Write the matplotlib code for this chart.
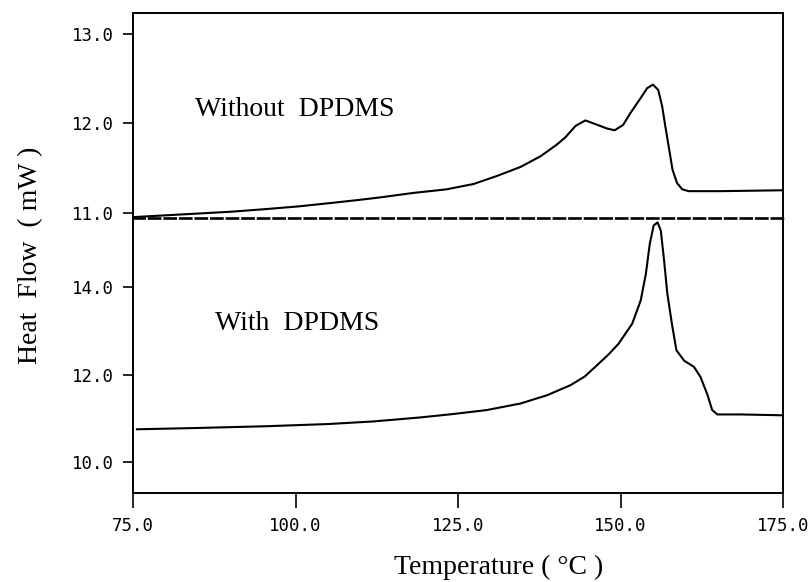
import matplotlib.pyplot as plt

# DSC traces
temp_without = [75.0, 80.0, 85.0, 90.0, 95.5, 100.5, 105.7, 109.5, 113.0, 118.1, 123.2,
                127.4, 131.0, 134.6, 137.7, 140.2, 141.5, 143.1, 144.6, 146.1, 147.9,
                149.1, 150.4, 151.5, 153.1, 154.1, 155.0, 155.8, 156.4, 156.9, 157.5,
                158.0, 158.7, 159.5, 160.5, 165.4, 175.0]
flow_without = [10.95, 10.97, 10.99, 11.01, 11.04, 11.07, 11.11, 11.14, 11.17, 11.22, 11.26,
                11.32, 11.41, 11.51, 11.63, 11.76, 11.84, 11.97, 12.03, 11.99, 11.94,
                11.92, 11.98, 12.11, 12.28, 12.39, 12.43, 12.37, 12.19, 11.96, 11.70,
                11.48, 11.33, 11.26, 11.24, 11.24, 11.25]

temp_with = [75.6, 85.0, 95.5, 105.0, 112.0, 119.1, 124.3, 129.4, 134.6, 138.7, 142.3,
             144.5, 146.4, 148.2, 149.7, 151.8, 153.1, 153.9, 154.5, 155.1, 155.7,
             156.2, 156.7, 157.2, 157.9, 158.6, 159.8, 161.3, 162.3, 163.4, 164.1,
             164.9, 168.5, 175.0]
flow_with = [10.75, 10.78, 10.82, 10.87, 10.93, 11.02, 11.10, 11.19, 11.34, 11.53, 11.76,
             11.96, 12.22, 12.47, 12.71, 13.17, 13.70, 14.31, 15.00, 15.42, 15.49,
             15.30, 14.62, 13.86, 13.17, 12.56, 12.32, 12.18, 11.95, 11.53, 11.19,
             11.09, 11.09, 11.07]

x_ticks = [75, 100, 125, 150, 175]
x_labels = ["75.0", "100.0", "125.0", "150.0", "175.0"]
top_ticks = [11, 12, 13]
top_labels = ["11.0", "12.0", "13.0"]
bot_ticks = [10, 12, 14]
bot_labels = ["10.0", "12.0", "14.0"]

serif = "Liberation Serif"
mono = "DejaVu Sans Mono"

fig = plt.figure(figsize=(8.1, 5.82), dpi=100)
left, width = 0.1642, 0.8025
ax1 = fig.add_axes([left, 0.6254, width, 0.3523])
ax2 = fig.add_axes([left, 0.1529, width, 0.4725])
ax1.set_zorder(3)  # keep the dashed separator on top of the lower panel

ax1.plot(temp_without, flow_without, color="black", lw=1.5)
ax2.plot(temp_with, flow_with, color="black", lw=1.5)

ax1.set_xlim(75, 175)
ax2.set_xlim(75, 175)
ax1.set_ylim(10.94, 13.23)
ax2.set_ylim(9.29, 15.59)

for ax in (ax1, ax2):
    for s in ax.spines.values():
        s.set_linewidth(1.4)

# dashed separator between the two traces
ax1.spines["bottom"].set_linestyle((0, (4.2, 1.7)))
ax1.spines["bottom"].set_linewidth(1.9)
ax2.spines["top"].set_visible(False)

ax1.set_xticks([])
ax1.set_yticks(top_ticks)
ax1.set_yticklabels(top_labels, fontfamily=mono, fontsize=12.5)
ax2.set_yticks(bot_ticks)
ax2.set_yticklabels(bot_labels, fontfamily=mono, fontsize=12.5)
ax2.set_xticks(x_ticks)
ax2.set_xticklabels(x_labels, fontfamily=mono, fontsize=12.5)

ax1.tick_params(axis="y", direction="out", length=7, width=1.2, pad=7)
ax2.tick_params(axis="y", direction="out", length=7, width=1.2, pad=7)
ax2.tick_params(axis="x", direction="out", length=11, width=1.2, pad=6)

ax1.text(0.095, 0.527, "Without  DPDMS", transform=ax1.transAxes,
         fontfamily=serif, fontsize=20, va="center", ha="left")
ax2.text(0.126, 0.618, "With  DPDMS", transform=ax2.transAxes,
         fontfamily=serif, fontsize=20, va="center", ha="left")

fig.text(0.038, 0.562, "Heat  Flow  ( mW )", rotation=90, fontfamily=serif,
         fontsize=20, ha="center", va="center")
fig.text(0.615, 0.025, "Temperature ( °C )", fontfamily=serif,
         fontsize=20, ha="center", va="center")

fig.savefig("out.png", dpi=100)
